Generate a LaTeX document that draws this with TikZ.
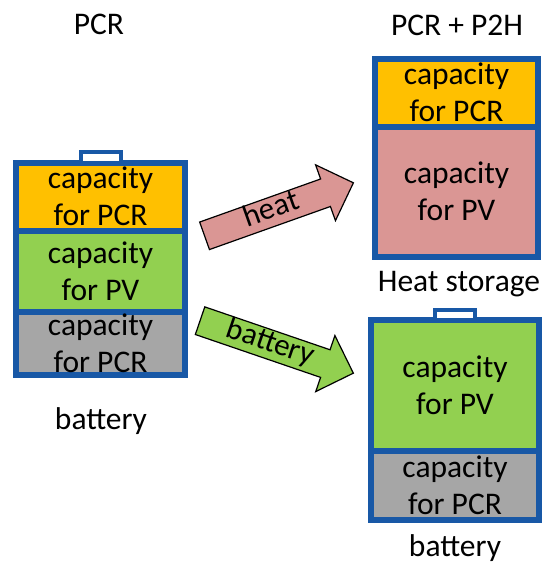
\documentclass[tikz,border=0pt]{standalone}
\usepackage{fontspec}
\setmainfont{Carlito}
\usetikzlibrary{positioning,shapes.arrows}
\definecolor{frameblue}{RGB}{24,88,166}
\definecolor{pcrorange}{RGB}{255,192,0}
\definecolor{pvgreen}{RGB}{146,208,80}
\definecolor{restgray}{RGB}{166,166,166}
\definecolor{heatpink}{RGB}{218,150,148}
\tikzset{
  part/.style={rectangle,draw=frameblue,line width=6pt,outer sep=0pt,inner sep=0pt,
    align=center,font=\fontsize{31.5}{37}\selectfont},
  batcap/.style={rectangle,draw=frameblue,fill=white,line width=4pt,outer sep=0pt,
    inner sep=0pt,minimum width=40pt},
  flow/.style={single arrow,draw=black,line width=1.2pt,inner xsep=3pt,inner ysep=3.5pt,
    text height=17pt,text depth=4pt,single arrow head extend=15pt,minimum width=58pt,
    font=\fontsize{31}{33}\selectfont},
  lbl/.style={font=\fontsize{31.5}{36}\selectfont}
}

\begin{document}
\begin{tikzpicture}[x=1pt,y=-1pt]

\useasboundingbox (0,0) rectangle (543,565);

% =========================================================
% Left battery (PCR)
% =========================================================

\node[lbl] (pcr) at (99,24) {PCR};

\node[part,fill=pcrorange,minimum width=169pt,minimum height=67.5pt] (lpcr) at (100.5,196.75) {capacity\\for PCR};
\node[part,fill=pvgreen,minimum width=169pt,minimum height=81pt,below=0pt of lpcr] (lpv) {capacity\\for PV};
\node[part,fill=restgray,minimum width=169pt,minimum height=63.5pt,below=0pt of lpv] (lrest) {capacity\\for PCR};
\node[batcap,minimum height=11pt,above=0pt of lpcr] (lcap) {};

\node[lbl] (lbat) at (101,421) {battery};


% =========================================================
% Right side (PCR + P2H)
% =========================================================

\node[lbl] (p2h) at (457,25) {PCR + P2H};

\node[part,fill=pcrorange,minimum width=163pt,minimum height=67.5pt] (hpcr) at (456.5,92.75) {capacity\\for PCR};
\node[part,fill=heatpink,minimum width=163pt,minimum height=130.5pt,below=0pt of hpcr] (hpv) {capacity\\for PV};

\node[lbl] (heat) at (459,284) {Heat storage};

\node[part,fill=pvgreen,minimum width=168pt,minimum height=131pt] (rpv) at (455,385.5) {capacity\\for PV};
\node[part,fill=restgray,minimum width=168pt,minimum height=68.5pt,below=0pt of rpv] (rrest) {capacity\\for PCR};
\node[batcap,minimum height=10pt,above=0pt of rpv] (rcap) {};

\node[lbl] (rbat) at (455,548) {battery};


% =========================================================
% Block arrows
% =========================================================

\node[flow,fill=heatpink,rotate=19.6,minimum height=158pt,anchor=tail] (toheat) at (204,236) {heat};
\node[flow,fill=pvgreen,rotate=-18.9,minimum height=162pt,anchor=tail] (tobat) at (199.5,320.5) {battery};

\end{tikzpicture}
\end{document}
